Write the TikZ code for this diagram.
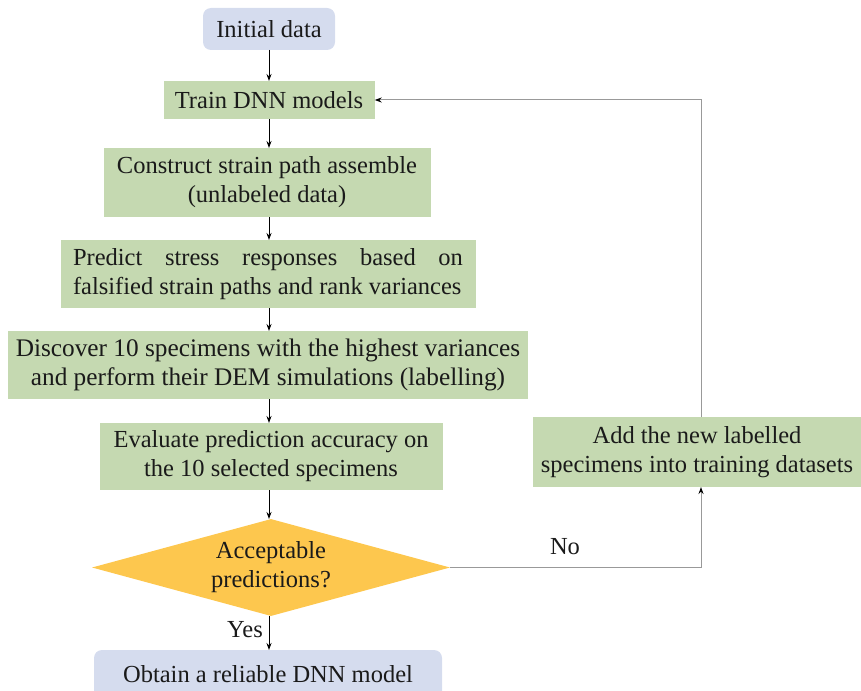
\documentclass[tikz,border=0pt]{standalone}
\usepackage{fontspec}
\setmainfont{Liberation Serif}
\usetikzlibrary{shapes.geometric,arrows.meta}
\definecolor{boxgreen}{HTML}{C5D9B1}
\definecolor{boxblue}{HTML}{D5DCEE}
\definecolor{diayellow}{HTML}{FDC74E}
\definecolor{txt}{HTML}{1A1A1A}
\tikzset{
  base/.style={inner sep=0pt, text=txt, font=\fontsize{24.5}{29}\selectfont, align=center},
  greenbox/.style={base, fill=boxgreen},
  bluebox/.style={base, fill=boxblue, rounded corners=8pt},
  decision/.style={base, shape=diamond, fill=diayellow, aspect=3.7},
  arr/.style={line width=0.9pt, black, -{Stealth[length=7pt,width=5pt]}},
  loop/.style={line width=1pt, gray!80, -{Stealth[length=7pt,width=5pt,black]}},
  lbl/.style={text=txt, font=\fontsize{24.5}{29}\selectfont, inner sep=0pt}
}
\begin{document}
\begin{tikzpicture}[x=1pt,y=-1pt]
\useasboundingbox (0,0) rectangle (861,690);
\clip (0,0) rectangle (861,690);
\node[bluebox, minimum width=132pt, minimum height=42pt] (init) at (269,29) {Initial data};
\node[greenbox, minimum width=211pt, minimum height=38pt] (train) at (269,100) {Train DNN models};
\node[greenbox, minimum width=327pt, minimum height=69pt] (cons) at (267,182.5) {Construct strain path assemble\\(unlabeled data)};
\node[greenbox, minimum width=415pt, minimum height=68pt, align=left] (pred) at (268,274) {\makebox[390pt][s]{Predict stress responses based on}\\falsified strain paths and rank variances};
\node[greenbox, minimum width=520pt, minimum height=68pt, font=\fontsize{25.3}{29}\selectfont] (disc) at (268,365) {Discover 10 specimens with the highest variances\\and perform their DEM simulations (labelling)};
\node[greenbox, minimum width=343pt, minimum height=67pt] (eval) at (271,456.5) {Evaluate prediction accuracy on\\the 10 selected specimens};
\node[decision, minimum width=358pt, minimum height=97pt] (dia) at (271,567.5) {Acceptable\\predictions?};
\node[bluebox, minimum width=348pt, minimum height=50pt] (obt) at (268,675) {\raisebox{3pt}{Obtain a reliable DNN model}};
\node[greenbox, minimum width=329pt, minimum height=70pt] (add) at (697,452) {Add the new labelled\\specimens into training datasets};
\coordinate (addS) at (701,487);
\coordinate (addN) at (701,417);

\draw[arr] (269,50) -- (269,81);
\draw[arr] (269,119) -- (269,148);
\draw[arr] (269,217) -- (269,240);
\draw[arr] (269,308) -- (269,331);
\draw[arr] (269,399) -- (269,423);
\draw[arr] (269,490) -- (269,519);
\draw[arr] (269,616) -- (269,650);
\node[lbl] (yes) at (245,630) {Yes};
\draw[loop] (dia.east) -- (dia.east -| addS) -- (addS);
\node[lbl] (no) at (565,547) {No};
\draw[loop] (addN) |- (train.east);
\end{tikzpicture}
\end{document}
